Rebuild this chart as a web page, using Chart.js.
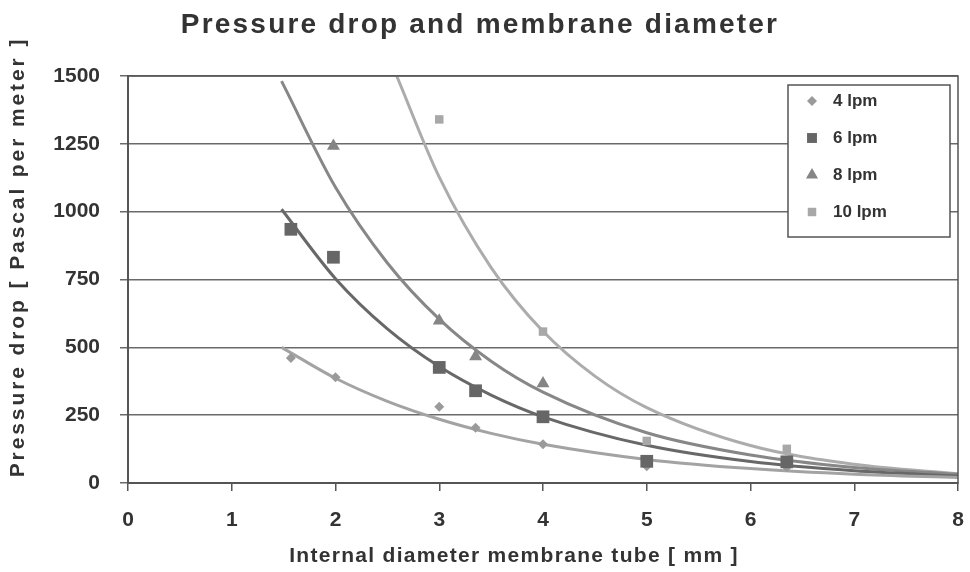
<!DOCTYPE html>
<html>
<head>
<meta charset="utf-8">
<script src="https://cdn.jsdelivr.net/npm/chart.js@4.4.0/dist/chart.umd.min.js"></script>
<style>
    body { margin: 0; background: #fff; }
    #wrap { width: 970px; height: 572px; }
</style>
</head>
<body>
<div id="wrap"><canvas id="myChart"></canvas></div>
<script>
// Datos
const series = ['4 lpm', '6 lpm', '8 lpm', '10 lpm'];

const diam4 = [1.57, 2, 3, 3.35, 4, 5, 6.35];
const puntos4 = [461, 390, 281, 204, 143, 62, 58];
const diam6 = [1.57, 1.98, 3, 3.35, 4, 5, 6.35];
const puntos6 = [935, 832, 426, 340, 244, 80, 78];
const diam8 = [1.98, 3, 3.35, 4];
const puntos8 = [1242, 598, 466, 367];
const diam10 = [3, 4, 5, 6.35];
const puntos10 = [1340, 558, 155, 126];

// lineas de tendencia
const curvaX = [1.48, 2, 2.5, 3, 3.5, 4, 5, 6, 7, 8];
const curva4 = [500, 386, 301, 235, 183, 143, 87, 53, 32, 20];
const curva6 = [1009, 753, 568, 429, 324, 244, 139, 79, 45, 26];
const curva8 = [1481, 1090, 811, 604, 449, 335, 185, 103, 57, 32];
const curva10X = [2.59, 3, 3.5, 4, 4.5, 5, 6, 7, 8];
const curva10 = [1500, 1127, 794, 559, 394, 278, 138, 69, 34];

const ticksY = [0, 250, 500, 750, 1000, 1250, 1500];

const FUENTE = '"Liberation Sans", Arial, sans-serif';

function pares(xs, ys) {
    return xs.map((x, i) => ({ x: x, y: ys[i] }));
}

function puntos(label, xs, ys, estilo, color, radio, orden) {
    return {
        label: label,
        data: pares(xs, ys),
        showLine: false,
        pointStyle: estilo,
        pointRadius: radio,
        pointBackgroundColor: color,
        pointBorderColor: color,
        pointBorderWidth: 0,
        order: orden
    };
}

function curva(xs, ys, color) {
    return {
        label: '',
        data: pares(xs, ys),
        showLine: true,
        borderColor: color,
        borderWidth: 3,
        pointRadius: 0,
        cubicInterpolationMode: 'monotone',
        order: 10
    };
}

// la ultima serie queda encima (como en Excel)
const datasets = [
    puntos(series[0], diam4, puntos4, 'rectRot', '#9a9a9a', 5, 3),
    puntos(series[1], diam6, puntos6, 'rect', '#666666', 9, 2),
    puntos(series[2], diam8, puntos8, 'triangle', '#858585', 7.5, 1),
    puntos(series[3], diam10, puntos10, 'rect', '#a8a8a8', 6, 0),
    curva(curvaX, curva4, '#a3a3a3'),
    curva(curvaX, curva6, '#686868'),
    curva(curvaX, curva8, '#878787'),
    curva(curva10X, curva10, '#acacac')
];

// textos: titulo y titulos de ejes
const textos = {
    id: 'textos',
    afterDraw(chart) {
        const ctx = chart.ctx;
        ctx.save();
        ctx.fillStyle = '#333';
        ctx.textAlign = 'center';
        ctx.textBaseline = 'middle';

        ctx.font = 'bold 28px ' + FUENTE;
        ctx.letterSpacing = '2.2px';
        ctx.fillText('Pressure drop and membrane diameter', 480, 25);

        ctx.font = 'bold 21px ' + FUENTE;
        ctx.letterSpacing = '1.3px';
        ctx.fillText('Internal diameter membrane tube [ mm ]', 514, 556);

        ctx.letterSpacing = '2.9px';
        ctx.translate(18, 257);
        ctx.rotate(-Math.PI / 2);
        ctx.fillText('Pressure drop [ Pascal per meter ]', 0, 0);
        ctx.restore();
    }
};

// borde del area y leyenda dentro de la grafica
const leyenda = {
    id: 'leyenda',
    afterDatasetsDraw(chart) {
        const ctx = chart.ctx;
        const area = chart.chartArea;
        ctx.save();
        ctx.strokeStyle = '#555';
        ctx.lineWidth = 1.5;
        ctx.strokeRect(area.left, area.top, area.right - area.left, area.bottom - area.top);

        ctx.fillStyle = '#fff';
        ctx.fillRect(788, 85, 162, 152);
        ctx.strokeRect(788, 85, 162, 152);

        ctx.font = 'bold 17px ' + FUENTE;
        ctx.textBaseline = 'middle';
        ctx.textAlign = 'left';
        for (let i = 0; i < 4; i++) {
            const ds = chart.data.datasets[i];
            const y = 101 + i * 37;
            ctx.fillStyle = ds.pointBackgroundColor;
            ctx.strokeStyle = ds.pointBackgroundColor;
            Chart.helpers.drawPoint(ctx, {
                pointStyle: ds.pointStyle,
                radius: Math.min(ds.pointRadius, 7),
                rotation: 0,
                borderWidth: 0
            }, 812, y);
            ctx.fillStyle = '#333';
            ctx.fillText(ds.label, 833, y);
        }
        ctx.restore();
    }
};

const canvas = document.getElementById('myChart');
const chart = new Chart(canvas, {
    type: 'scatter',
    data: { datasets: datasets },
    options: {
        responsive: true,
        maintainAspectRatio: false,
        animation: false,
        layout: { padding: { top: 76, right: 12, left: 0, bottom: 0 } },
        plugins: {
            legend: { display: false },
            title: { display: false },
            tooltip: { enabled: false }
        },
        scales: {
            x: {
                type: 'linear',
                min: 0,
                max: 8,
                afterFit: function (s) {
                    s.height = 89;
                    s.paddingLeft = 0;
                    s.paddingRight = 0;
                },
                ticks: {
                    stepSize: 1,
                    padding: 17,
                    color: '#333',
                    font: { family: FUENTE, size: 21, weight: 'bold' },
                    callback: function (v) { return String(v); }
                },
                grid: { drawOnChartArea: false, tickLength: 8, color: '#555', lineWidth: 1.5 },
                border: { color: '#555', width: 2 }
            },
            y: {
                type: 'linear',
                min: 0,
                max: 1500,
                afterFit: function (s) {
                    s.width = 128;
                    s.paddingTop = 0;
                    s.paddingBottom = 0;
                },
                afterBuildTicks: function (s) {
                    s.ticks = ticksY.map(v => ({ value: v }));
                },
                ticks: {
                    padding: 20,
                    color: '#333',
                    font: { family: FUENTE, size: 21, weight: 'bold' },
                    callback: function (v) { return String(v); }
                },
                grid: { color: '#6a6a6a', lineWidth: 1.5, tickLength: 8 },
                border: { color: '#555', width: 2 }
            }
        }
    },
    plugins: [textos, leyenda]
});
</script>
</body>
</html>
